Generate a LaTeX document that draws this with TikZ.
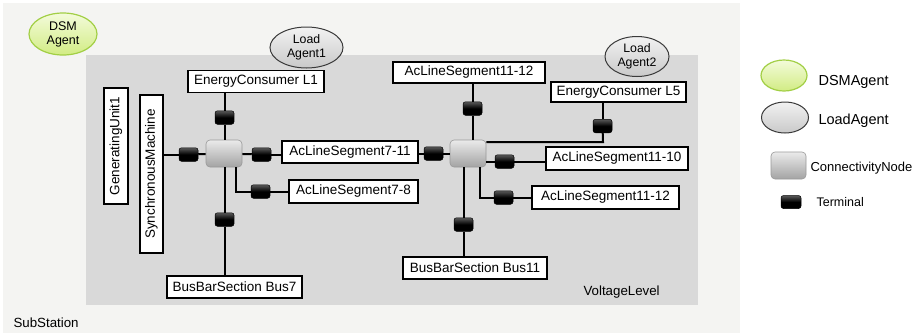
\documentclass[tikz,border=0pt]{standalone}
\usepackage{fontspec}
\setmainfont{Liberation Sans}
\usetikzlibrary{shapes.geometric,calc}

\definecolor{subbg}{HTML}{F4F4F2}
\definecolor{vlbg}{HTML}{D9D9D9}
\definecolor{dsmtop}{HTML}{F3FBDA}
\definecolor{dsmbot}{HTML}{D2EC84}
\definecolor{dsmedge}{HTML}{A2CF45}
\definecolor{agenttop}{HTML}{F2F2F2}
\definecolor{agentbot}{HTML}{C9C9C9}
\definecolor{agentedge}{HTML}{3A3A3A}

\tikzset{
  lbl/.style={font=\fontsize{13.3}{15}\selectfont},
  eqbox/.style={draw=black, line width=1.8pt, fill=white, inner sep=0pt,
    minimum height=22pt, font=\fontsize{13.5}{15}\selectfont},
  vbox/.style={eqbox, rotate=90, minimum height=23pt},
  cnode/.style={rounded corners=4pt, draw=black!40, line width=0.6pt,
    top color=black!8, middle color=black!27, bottom color=black!36,
    minimum width=36pt, minimum height=27pt, inner sep=0pt},
  term/.style={rounded corners=2.5pt, draw=black, line width=0.5pt,
    top color=black!65, bottom color=black, middle color=black,
    minimum width=19pt, minimum height=13.5pt, inner sep=0pt},
  dsm/.style={ellipse, draw=dsmedge, line width=1.2pt,
    top color=dsmtop, bottom color=dsmbot,
    inner sep=0pt, align=center, font=\fontsize{12.5}{14}\selectfont},
  agent/.style={ellipse, draw=agentedge, line width=1pt,
    top color=agenttop, bottom color=agentbot,
    inner sep=0pt, align=center, font=\fontsize{12.3}{14}\selectfont},
  wire/.style={line width=2pt, draw=black},
}

\begin{document}
\begin{tikzpicture}[x=1pt, y=-1pt]
% canvas, substation area and voltage level area
\fill[white] (0,0) rectangle (915,333);
\useasboundingbox (0,0) rectangle (915,333);
\fill[subbg] (3,3) rectangle (740,333);
\fill[vlbg] (86,55) rectangle (698,305);

\node[lbl, anchor=base west] (substation) at (10,327) {SubStation};
\node[lbl, anchor=base west] (voltagelevel) at (580,295) {VoltageLevel};

% agents
\node[dsm, minimum width=68pt, minimum height=42pt] (dsmagent) at (63,34) {DSM\\Agent};
\node[agent, minimum width=73pt, minimum height=41pt] (load1) at (306.5,47.5) {Load\\Agent1};
\node[agent, minimum width=64pt, minimum height=40pt] (load2) at (637,56.5) {Load\\Agent2};

% equipment around the first connectivity node
\node[eqbox, minimum width=136pt] (ec1) at (256,81.5) {EnergyConsumer L1};
\node[vbox, minimum width=116pt, minimum height=24pt] (gen) at (116,146) {GeneratingUnit1};
\node[vbox, minimum width=158pt] (sm) at (151.5,174) {SynchronousMachine};
\node[eqbox, minimum width=136pt] (acl711) at (350,152) {AcLineSegment7-11};
\node[eqbox, minimum width=129pt, minimum height=23pt] (acl78) at (353.5,191.5) {AcLineSegment7-8};
\node[eqbox, minimum width=135pt] (bus7) at (234.5,287) {BusBarSection Bus7};

\node[cnode] (cn1) at (224,153.5) {};
\node[term] (t1l) at (188.5,154.5) {};
\node[term] (t1u) at (224.5,117.5) {};
\node[term] (t1r) at (261.5,154.5) {};
\node[term] (t1dr) at (260.5,191.5) {};
\node[term] (t1d) at (224.5,219.5) {};

% equipment around the second connectivity node
\node[eqbox, minimum width=152pt, minimum height=21pt] (acl1112a) at (469,72.5) {AcLineSegment11-12};
\node[eqbox, minimum width=135pt, minimum height=20pt] (ec5) at (618.5,92) {EnergyConsumer L5};
\node[eqbox, minimum width=142pt, minimum height=23pt] (acl1110) at (617,158.5) {AcLineSegment11-10};
\node[eqbox, minimum width=147pt, minimum height=23pt] (acl1112b) at (605.5,197.5) {AcLineSegment11-12};
\node[eqbox, minimum width=144pt] (bus11) at (475,268) {BusBarSection Bus11};

\node[cnode] (cn2) at (468,153.5) {};
\node[term] (t2l) at (433.5,153.5) {};
\node[term] (t2u) at (472.5,108.5) {};
\node[term] (t2l5) at (602.5,126) {};
\node[term] (t2r) at (504.5,161.5) {};
\node[term] (t2dr) at (503.5,197.5) {};
\node[term] (t2d) at (463.5,224.5) {};

% wiring, first node
\draw[wire] (sm.south |- t1l) -- (t1l);
\draw[wire] (t1l) -- (cn1);
\draw[wire] (ec1.south -| t1u) -- (t1u);
\draw[wire] (t1u) -- (cn1.north -| t1u);
\draw[wire] (cn1) -- (t1r);
\draw[wire] (t1r) -- (acl711.west |- t1r);
\draw[wire] (cn1.south -| t1d) -- (t1d);
\draw[wire] (t1d) -- (bus7.north -| t1d);
\coordinate (k1) at (236,191.5);
\draw[wire] (cn1.south -| k1) -- (k1) -- (t1dr);
\draw[wire] (t1dr) -- (acl78.west |- t1dr);

% wiring, second node
\draw[wire] (acl711.east |- t2l) -- (t2l);
\draw[wire] (t2l) -- (cn2);
\draw[wire] (acl1112a.south -| t2u) -- (t2u);
\draw[wire] (t2u) -- (cn2.north -| t2u);
\coordinate (k2) at (603,142);
\draw[wire] (cn2.east |- k2) -- (k2) -- (t2l5);
\draw[wire] (t2l5) -- (ec5.south -| t2l5);
\draw[wire] (cn2.east |- t2r) -- (t2r);
\draw[wire] (t2r) -- (acl1110.west |- t2r);
\coordinate (k3) at (480,197.5);
\draw[wire] (cn2.south -| k3) -- (k3) -- (t2dr);
\draw[wire] (t2dr) -- (acl1112b.west |- t2dr);
\draw[wire] (cn2.south -| t2d) -- (t2d);
\draw[wire] (t2d) -- (bus11.north -| t2d);

% legend
\node[dsm, minimum width=46pt, minimum height=31pt] (lgdsm) at (784,75.5) {};
\node[agent, minimum width=47pt, minimum height=31pt] (lgload) at (785,117.5) {};
\node[cnode, minimum width=35pt] (lgcn) at (788.5,165.5) {};
\node[term, minimum width=20pt, minimum height=13pt] (lgterm) at (791,202) {};
\node[anchor=base west, font=\fontsize{14.5}{17}\selectfont] (lgdsmtext) at (815,85) {DSMAgent};
\node[anchor=base west, font=\fontsize{14.5}{17}\selectfont] (lgloadtext) at (815,124) {LoadAgent};
\node[anchor=base west, font=\fontsize{13}{15}\selectfont] (lgcntext) at (807,171) {ConnectivityNode};
\node[anchor=base west, font=\fontsize{12.5}{15}\selectfont] (lgtermtext) at (813,206) {Terminal};
\end{tikzpicture}
\end{document}
